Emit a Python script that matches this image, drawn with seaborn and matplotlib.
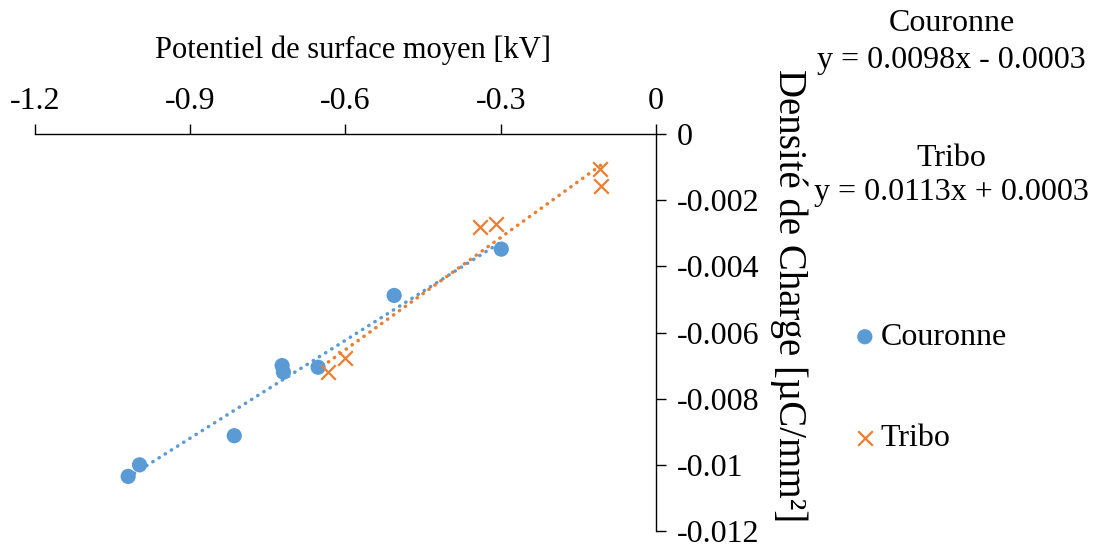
import matplotlib
matplotlib.use("Agg")
import matplotlib.pyplot as plt
import seaborn as sns
import numpy as np
import pandas as pd
from matplotlib.ticker import FuncFormatter, MultipleLocator

# Données
couronne_x = [-1.020, -0.998, -0.815, -0.7225, -0.720, -0.653, -0.506, -0.299]
couronne_y = [-0.01035, -0.0100, -0.00912, -0.00700, -0.00720, -0.00705, -0.00488, -0.00348]
tribo_x = [-0.1085, -0.1066, -0.3405, -0.3096, -0.601, -0.633]
tribo_y = [-0.00105, -0.00158, -0.00282, -0.00273, -0.00677, -0.00720]

series = ["Couronne", "Tribo"]
couleurs = {"Couronne": "#5B9BD5", "Tribo": "#ED7D31"}
equations = ["y = 0.0098x - 0.0003", "y = 0.0113x + 0.0003"]

df = pd.DataFrame({
    "x": couronne_x + tribo_x,
    "y": couronne_y + tribo_y,
    "serie": ["Couronne"] * len(couronne_x) + ["Tribo"] * len(tribo_x),
})

sns.set_style("white")
plt.rcParams.update({
    "font.family": ["Liberation Serif", "DejaVu Serif"],
    "font.size": 23,
    "axes.unicode_minus": False,
    "text.color": "black",
    "axes.labelcolor": "black",
    "xtick.color": "black",
    "ytick.color": "black",
})

fig = plt.figure(figsize=(10.99, 5.48), dpi=100)
ax = fig.add_axes([35 / 1099, 1 - 531 / 548, (656 - 35) / 1099, (531 - 134) / 548])

# lignes de tendance (pointillés)
for s in series:
    sub = df[df["serie"] == s]
    sns.regplot(data=sub, x="x", y="y", ax=ax, scatter=False, ci=None, truncate=True,
                color=couleurs[s],
                line_kws=dict(linestyle=(0, (0.1, 2.0)), linewidth=2.5,
                              dash_capstyle="round", zorder=2))

# points
sub = df[df["serie"] == "Couronne"]
sns.scatterplot(data=sub, x="x", y="y", ax=ax, color=couleurs["Couronne"], marker="o",
                s=120, edgecolor="none", label="Couronne", zorder=3)
sub = df[df["serie"] == "Tribo"]
sns.scatterplot(data=sub, x="x", y="y", ax=ax, color=couleurs["Tribo"], marker="x",
                s=110, linewidth=1.6, label="Tribo", zorder=3)

ax.set_xlim(-1.2, 0)
ax.set_ylim(-0.012, 0)
ax.xaxis.set_major_locator(MultipleLocator(0.3))
ax.yaxis.set_major_locator(MultipleLocator(0.002))
fmt = FuncFormatter(lambda v, p: "0" if abs(v) < 1e-12 else f"{v:g}")
ax.xaxis.set_major_formatter(fmt)
ax.yaxis.set_major_formatter(fmt)

ax.xaxis.tick_top()
ax.yaxis.tick_right()
for side in ["left", "bottom"]:
    ax.spines[side].set_visible(False)
for side in ["top", "right"]:
    ax.spines[side].set_color("black")
    ax.spines[side].set_linewidth(1.0)
ax.tick_params(axis="x", direction="out", length=7, width=1.0, pad=6, labelsize=23)
ax.tick_params(axis="y", direction="out", length=7, width=1.0, pad=8, labelsize=23)
ax.grid(False)

ax.xaxis.set_label_position("top")
ax.set_xlabel("Potentiel de surface moyen [kV]", fontsize=22)
ax.xaxis.set_label_coords(0.512, 1.21)
ax.xaxis.label.set_va("center")

ax.yaxis.set_label_position("right")
ax.set_ylabel("Densité de Charge [µC/mm²]", fontsize=28, rotation=-90)
ax.yaxis.label.set_va("center")
ax.yaxis.label.set_ha("center")
ax.yaxis.set_label_coords(1.213, 0.594)

# légende
leg = ax.legend(loc="center left", bbox_to_anchor=(1.29, 0.36), frameon=False,
                handletextpad=0.0, handlelength=1.0, labelspacing=2.25, fontsize=23,
                borderaxespad=0)

# équations des tendances
fig.text(0.866, 0.923, f"{series[0]}\n{equations[0]}", ha="center", va="center",
         fontsize=23, linespacing=1.39)
fig.text(0.866, 0.680, f"{series[1]}\n{equations[1]}", ha="center", va="center",
         fontsize=23, linespacing=1.2)

fig.savefig("out.png", dpi=100, facecolor="white")
